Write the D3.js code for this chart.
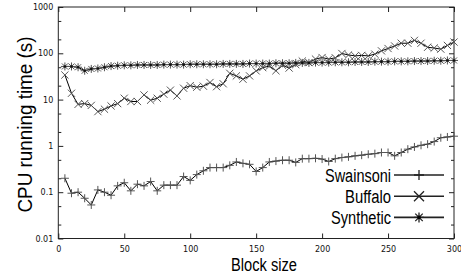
<!DOCTYPE html>
<html>
<head>
<meta charset="utf-8">
<script src="https://cdn.jsdelivr.net/npm/d3@7.9.0/dist/d3.min.js"></script>
<style>
  html, body { margin: 0; padding: 0; background: #fff; }
  svg { display: block; }
  .tick text { font-family: 'DejaVu Sans', sans-serif; font-size: 8px; fill: #111; }
  .big { font-family: 'Liberation Sans', Arial, sans-serif; fill: #000; }
</style>
</head>
<body>
<div id="chart"></div>
<script>
// block sizes 5..300
const blockSize = [
  5, 10, 15, 20, 25, 30, 35, 40, 45, 50, 55, 60, 65, 70, 75, 80, 85, 90, 95, 100,
  105, 110, 115, 120, 125, 130, 135, 140, 145, 150, 155, 160, 165, 170, 175, 180, 185, 190, 195, 200,
  205, 210, 215, 220, 225, 230, 235, 240, 245, 250, 255, 260, 265, 270, 275, 280, 285, 290, 295, 300
];

const swainsoni = [
  0.2, 0.095, 0.1, 0.074, 0.053, 0.112, 0.1, 0.086, 0.137, 0.16,
  0.107, 0.149, 0.137, 0.17, 0.107, 0.142, 0.142, 0.142, 0.218, 0.18,
  0.24, 0.29, 0.34, 0.34, 0.34, 0.38, 0.45, 0.42, 0.40, 0.28,
  0.34, 0.45, 0.47, 0.49, 0.49, 0.44, 0.53, 0.53, 0.54, 0.52,
  0.46, 0.53, 0.56, 0.58, 0.61, 0.63, 0.66, 0.68, 0.72, 0.72,
  0.61, 0.72, 0.85, 0.95, 1.03, 1.09, 1.24, 1.5, 1.56, 1.62
];

const buffalo = [
  34, 13.7, 7.9, 8.2, 7.5, 5.5, 6.2, 7.3, 8.2, 10.7,
  9.1, 9.1, 12.6, 9.7, 10.7, 13.1, 16, 12, 17.6, 20,
  18.5, 19.5, 23.4, 19, 22, 37, 32.5, 27.6, 32.5, 41.7,
  49, 53, 42, 55, 48, 57, 68, 63, 75, 81,
  75, 80, 99, 92, 88, 90, 88, 96, 113, 127,
  144, 165, 165, 190, 165, 135, 130, 123, 148, 175
];

const synthetic = [
  52, 52, 50, 42, 46, 47, 50, 53, 54, 55,
  55, 56, 56, 56, 56, 57, 57, 57, 57, 58,
  58, 58, 58, 58, 59, 59, 59, 59, 60, 60,
  60, 60, 61, 61, 61, 62, 62, 62, 63, 63,
  63, 64, 64, 64, 65, 65, 65, 66, 66, 66,
  67, 67, 67, 68, 68, 68, 69, 69, 70, 70
];

const seriesNames = ['Swainsoni', 'Buffalo', 'Synthetic'];
const seriesValues = [swainsoni, buffalo, synthetic];
const seriesMarks = ['plus', 'cross', 'star'];

const xTicks = [0, 50, 100, 150, 200, 250, 300];
const yTicks = [0.01, 0.1, 1, 10, 100, 1000];
const yMinor = [0.02, 0.05, 0.2, 0.5, 2, 5, 20, 50, 200, 500];

const width = 461, height = 279;
const margin = { top: 7, right: 7, bottom: 40.5, left: 58.3 };
const usable = {
  left: margin.left, right: width - margin.right,
  top: margin.top, bottom: height - margin.bottom
};

const svg = d3.select('#chart').append('svg')
  .attr('width', width).attr('height', height);

const x = d3.scaleLinear().domain([0, 300]).range([usable.left, usable.right]);
const y = d3.scaleLog().domain([0.01, 1000]).range([usable.bottom, usable.top]);

// marker paths
function markPath(type, r) {
  const plus = `M${-r},0H${r}M0,${-r}V${r}`;
  const cross = `M${-r},${-r}L${r},${r}M${-r},${r}L${r},${-r}`;
  if (type === 'plus') return plus;
  if (type === 'cross') return cross;
  const c = r * 0.75;
  return `M${-r},0H${r}M0,${-r}V${r}M${-c},${-c}L${c},${c}M${-c},${c}L${c},${-c}`;
}

// narrow-looking text: squeeze a regular sans to the measured width
function narrowText(sel, len) {
  return sel.attr('textLength', len).attr('lengthAdjust', 'spacingAndGlyphs');
}

// axes (ticks inward, mirrored)
const yFmt = d => String(d);
svg.append('g').attr('transform', `translate(${usable.left},0)`)
  .call(d3.axisLeft(y).tickValues(yTicks).tickFormat(yFmt).tickSize(-5).tickPadding(5));
svg.append('g').attr('transform', `translate(${usable.left},0)`)
  .call(d3.axisLeft(y).tickValues(yMinor).tickFormat('').tickSize(-3));
svg.append('g').attr('transform', `translate(${usable.right},0)`)
  .call(d3.axisRight(y).tickValues(yTicks).tickFormat('').tickSize(-5));
svg.append('g').attr('transform', `translate(${usable.right},0)`)
  .call(d3.axisRight(y).tickValues(yMinor).tickFormat('').tickSize(-3));
svg.append('g').attr('transform', `translate(0,${usable.bottom})`)
  .call(d3.axisBottom(x).tickValues(xTicks).tickFormat(d3.format('d')).tickSize(-5).tickPadding(8));
svg.append('g').attr('transform', `translate(0,${usable.top})`)
  .call(d3.axisTop(x).tickValues(xTicks).tickFormat('').tickSize(-5));

svg.selectAll('.domain').remove();
svg.selectAll('.tick line').attr('stroke', '#222');

svg.append('rect')
  .attr('x', usable.left).attr('y', usable.top)
  .attr('width', usable.right - usable.left).attr('height', usable.bottom - usable.top)
  .attr('fill', 'none').attr('stroke', '#222').attr('stroke-width', 1);

// series
const line = d3.line().x(d => x(d[0])).y(d => y(d[1]));
seriesValues.forEach((vals, i) => {
  const pts = blockSize.map((b, j) => [b, vals[j]]);
  const g = svg.append('g');
  g.append('path').datum(pts)
    .attr('d', line).attr('fill', 'none').attr('stroke', '#000').attr('stroke-width', 1);
  g.selectAll('path.m').data(pts).join('path')
    .attr('class', 'm')
    .attr('transform', d => `translate(${x(d[0])},${y(d[1])})`)
    .attr('d', markPath(seriesMarks[i], seriesMarks[i] === 'cross' ? 3.6 : 4))
    .attr('fill', 'none').attr('stroke', '#555').attr('stroke-width', 1);
  if (seriesMarks[i] === 'star') {
    g.selectAll('circle').data(pts).join('circle')
      .attr('cx', d => x(d[0])).attr('cy', d => y(d[1])).attr('r', 1.3).attr('fill', '#111');
  }
});

// legend
const legendWidths = [66, 46, 60];
const legend = svg.append('g');
seriesNames.forEach((name, i) => {
  const cy = 175 + i * 21.2;
  legend.append('text').attr('class', 'big')
    .attr('x', 391).attr('y', cy + 6.5).attr('text-anchor', 'end')
    .attr('font-size', 18).text(name)
    .call(narrowText, legendWidths[i]);
  legend.append('line')
    .attr('x1', 394).attr('x2', 444).attr('y1', cy).attr('y2', cy)
    .attr('stroke', '#222').attr('stroke-width', 1.6);
  legend.append('path')
    .attr('transform', `translate(419,${cy})`)
    .attr('d', markPath(seriesMarks[i], 5))
    .attr('fill', 'none').attr('stroke', '#222').attr('stroke-width', 1.3);
  if (seriesMarks[i] === 'star') {
    legend.append('circle').attr('cx', 419).attr('cy', cy).attr('r', 1.8).attr('fill', '#000');
  }
});

// axis titles
svg.append('text').attr('class', 'big')
  .attr('x', 264).attr('y', 271).attr('text-anchor', 'middle')
  .attr('font-size', 18).text('Block size')
  .call(narrowText, 66);
svg.append('text').attr('class', 'big')
  .attr('transform', 'translate(32,124.5) rotate(-90)')
  .attr('text-anchor', 'middle').attr('font-size', 20)
  .text('CPU running time (s)')
  .call(narrowText, 176);
</script>
</body>
</html>
